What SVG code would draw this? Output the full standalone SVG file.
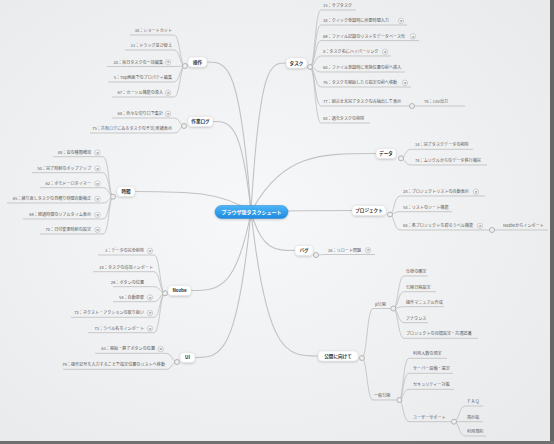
<svg xmlns="http://www.w3.org/2000/svg" xmlns:xlink="http://www.w3.org/1999/xlink" width="554" height="444" viewBox="0 0 554 444">
<defs>
<radialGradient id="bg" cx="0.45" cy="0.48" r="0.7">
<stop offset="0" stop-color="#f7f8f9"/>
<stop offset="1" stop-color="#e9eaec"/>
</radialGradient>
<linearGradient id="cg" x1="0" y1="0" x2="0" y2="1">
<stop offset="0" stop-color="#4fb6f7"/>
<stop offset="1" stop-color="#1d8ae0"/>
</linearGradient>
<filter id="sh" x="-20%" y="-30%" width="140%" height="170%">
<feDropShadow dx="0" dy="0.8" stdDeviation="0.8" flood-color="#000" flood-opacity="0.22"/>
</filter>
<g id="ic"><circle r="2.7" fill="#f8f8f8" stroke="#a9a9a9" stroke-width="0.5"/><text y="1.1" font-size="2.8" text-anchor="middle" fill="#8a8a8a" font-family="'Noto Sans CJK JP',sans-serif">済</text></g>
<style>
.mc{fill:none;stroke:#c2c2c2;stroke-width:1.1}
.br{fill:none;stroke:#c0c0c0;stroke-width:0.85}
.dot{fill:#efefef;stroke:#a3a3a3;stroke-width:0.8}
.t{font-family:"Noto Sans CJK JP","Noto Sans",sans-serif;font-size:4.1px;fill:#5a5a5a}
.e{text-anchor:end}
.box{fill:#ffffff;stroke:#d6d6d6;stroke-width:0.4;filter:url(#sh)}
.bt{font-family:"Noto Sans CJK JP","Noto Sans",sans-serif;font-size:4.6px;font-weight:bold;fill:#333;text-anchor:middle}
</style>
</defs>
<rect width="554" height="444" fill="url(#bg)"/>
<rect x="550" y="0" width="4" height="444" fill="#666"/>
<rect x="0" y="441" width="554" height="3" fill="#707070"/>

<g id="connectors">
<path class="mc" d="M251,212 C240,62 226.8,62 207,62"/>
<path class="mc" d="M251,212 C241.5,121.5 230.1,121.5 213,121.5"/>
<path class="mc" d="M251,212 C222,191.5 187.2,191.5 135,191.5"/>
<path class="mc" d="M251,212 C236,290.5 218,290.5 191,290.5"/>
<path class="mc" d="M251,212 C237,357.5 220.2,357.5 195,357.5"/>
<path class="mc" d="M251,212 C259.75,63 270.25,63 286,63"/>
<path class="mc" d="M251,212 C282.25,153.5 319.75,153.5 376,153.5"/>
<path class="mc" d="M251,212 C276.25,210.5 306.55,210.5 352,210.5"/>
<path class="mc" d="M251,212 C262,250.5 275.2,250.5 295,250.5"/>
<path class="mc" d="M251,212 C267,356 287,356 318,356"/>
</g>

<g id="center">
<rect x="215" y="205.5" width="73" height="13" rx="6.5" fill="url(#cg)" stroke="#2a86d4" stroke-width="0.5" filter="url(#sh)"/>
<text x="251.5" y="213.8" font-family="'Noto Sans CJK JP','Noto Sans',sans-serif" font-size="5px" font-weight="bold" fill="#fff" text-anchor="middle">ブラウザ版タスクシュート</text>
</g>

<g id="sousa">
<path class="br" d="M185,66 C180,66 180,35 174,35 H130"/>
<path class="br" d="M185,66 C180,66 180,50 174,50 H125"/>
<path class="br" d="M185,66 C180,66 180,66.5 174,66.5 H107"/>
<path class="br" d="M185,66 C180,66 180,82 174,82 H108"/>
<path class="br" d="M185,66 C180,66 180,97 174,97 H112"/>
<rect class="box" x="188" y="57" width="19" height="10" rx="4"/>
<text class="bt" x="197.5" y="63.7">操作</text>
<circle class="dot" cx="185" cy="66" r="2.5"/>
<text class="t e" x="172" y="32">30：ショートカット</text>
<text class="t e" x="172" y="47">31：ドラッグ並び替え</text>
<text class="t e" x="163" y="63.5">20：毎日タスクの一括編集</text>
<use href="#ic" x="168" y="62.3"/>
<text class="t e" x="172" y="79">5：Top画面でのプロパティ編集</text>
<text class="t e" x="163" y="94">67：カーソル機能の導入</text>
<use href="#ic" x="168" y="92.8"/>
</g>

<g id="sagyolog">
<path class="br" d="M184,126 C180,126 180,118 174,118 H112"/>
<path class="br" d="M184,126 C180,126 180,133 174,133 H90"/>
<rect class="box" x="188" y="116.5" width="25" height="10" rx="4"/>
<text class="bt" x="200.5" y="123.2">作業ログ</text>
<circle class="dot" cx="184" cy="126" r="2.5"/>
<text class="t e" x="163" y="115">64：色々な切り口で集計</text>
<use href="#ic" x="168" y="113.8"/>
<text class="t e" x="172" y="130">75：共有ログにあるタスクの予定/実績表示</text>
</g>

<g id="jikan">
<path class="br" d="M113,196.7 C109,196.7 109,156.7 103,156.7 H53"/>
<path class="br" d="M113,196.7 C109,196.7 109,172.7 103,172.7 H32"/>
<path class="br" d="M113,196.7 C109,196.7 109,187.7 103,187.7 H40"/>
<path class="br" d="M113,196.7 C109,196.7 109,203 103,203 H7"/>
<path class="br" d="M113,196.7 C109,196.7 109,219 103,219 H23"/>
<path class="br" d="M113,196.7 C109,196.7 109,234 103,234 H40"/>
<rect class="box" x="117" y="186.5" width="18" height="10" rx="4"/>
<text class="bt" x="126" y="193.2">時間</text>
<circle class="dot" cx="113" cy="196.7" r="2.5"/>
<text class="t e" x="91" y="153.7">48：音の種類増加</text>
<use href="#ic" x="97.5" y="152.5"/>
<text class="t e" x="91" y="169.7">50：完了時刻のポップアップ</text>
<use href="#ic" x="97.5" y="168.5"/>
<text class="t e" x="91" y="184.7">62：ポモドーロタイマー</text>
<use href="#ic" x="97.5" y="183.5"/>
<text class="t e" x="91" y="200">65：繰り返しタスクの見積り時間自動補正</text>
<use href="#ic" x="97.5" y="198.8"/>
<text class="t e" x="91" y="216">69：経過時間のリアルタイム表示</text>
<use href="#ic" x="97.5" y="214.8"/>
<text class="t e" x="91" y="231">70：日付変更時刻の設定</text>
<use href="#ic" x="97.5" y="229.8"/>
</g>

<g id="nozbe">
<path class="br" d="M165,293.3 C160,293.3 160,255 154,255 H98"/>
<path class="br" d="M165,293.3 C160,293.3 160,271.7 154,271.7 H93"/>
<path class="br" d="M165,293.3 C160,293.3 160,286.7 154,286.7 H113"/>
<path class="br" d="M165,293.3 C160,293.3 160,301.7 154,301.7 H113"/>
<path class="br" d="M165,293.3 C160,293.3 160,317.3 154,317.3 H71"/>
<path class="br" d="M165,293.3 C160,293.3 160,332.7 154,332.7 H88"/>
<rect class="box" x="168" y="285.5" width="23" height="10" rx="4"/>
<text class="bt" x="179.5" y="292.2">Nozbe</text>
<circle class="dot" cx="165" cy="293.3" r="2.5"/>
<text class="t e" x="144" y="252">3：データの完全削除</text>
<use href="#ic" x="150" y="250.8"/>
<text class="t e" x="153" y="268.7">24：タスクの追加インポート</text>
<text class="t e" x="144" y="283.7">29：ボタンの位置</text>
<text class="t e" x="144" y="298.7">54：自動更新</text>
<use href="#ic" x="150" y="297.5"/>
<text class="t e" x="144" y="314.3">72：ネクスト・アクションの取り扱い</text>
<use href="#ic" x="150" y="313.1"/>
<text class="t e" x="144" y="329.7">73：ラベル名をインポート</text>
<use href="#ic" x="150" y="328.5"/>
</g>

<g id="ui">
<path class="br" d="M177,362 C172,362 172,353.3 166,353.3 H95"/>
<path class="br" d="M177,362 C172,362 172,369.3 166,369.3 H63"/>
<rect class="box" x="180" y="352.5" width="15" height="10" rx="4"/>
<text class="bt" x="187.5" y="359.2">UI</text>
<circle class="dot" cx="177" cy="362" r="2.5"/>
<text class="t e" x="155" y="350.3">63：開始・終了ボタンの位置</text>
<use href="#ic" x="160.7" y="349.1"/>
<text class="t e" x="165" y="366.3">79：操作記号を入力することで指定位置のリストへ移動</text>
</g>

<g id="task">
<path class="br" d="M310,67 C315,67 315,10 321,10 H356"/>
<path class="br" d="M310,67 C315,67 315,25 321,25 H407"/>
<path class="br" d="M310,67 C315,67 315,40.6 321,40.6 H419"/>
<path class="br" d="M310,67 C315,67 315,56 321,56 H391"/>
<path class="br" d="M310,67 C315,67 315,72 321,72 H405"/>
<path class="br" d="M310,67 C315,67 315,87 321,87 H411"/>
<path class="br" d="M310,67 C315,67 315,106 321,106 H409.5"/>
<path class="br" d="M310,67 C315,67 315,123 321,123 H370"/>
<path class="br" d="M414.5,106 H465"/>
<rect class="box" x="286" y="58" width="21" height="10" rx="4"/>
<text class="bt" x="296.5" y="64.7">タスク</text>
<circle class="dot" cx="310" cy="67" r="2.5"/>
<text class="t" x="323" y="7">15：サブタスク</text>
<text class="t" x="323" y="22">38：クイック登録時に所要時間入力</text>
<use href="#ic" x="401" y="20.8"/>
<text class="t" x="323" y="37.6">69：ファイル記録のリストをデータベース化</text>
<use href="#ic" x="413" y="36.4"/>
<text class="t" x="323" y="53">8：タスク名にハイパーリンク</text>
<use href="#ic" x="385" y="51.8"/>
<text class="t" x="323" y="69">60：ファイル登録時に実施位置の前へ挿入</text>
<text class="t" x="323" y="84">76：タスクを開始したら指定の前へ移動</text>
<use href="#ic" x="405" y="82.8"/>
<text class="t" x="323" y="103">77：組合せ未完了タスクのみ抽出して表示</text>
<circle class="dot" cx="412" cy="106" r="2.5"/>
<text class="t" x="424" y="103">78：CSV出力</text>
<text class="t" x="323" y="120">88：過去タスクの削除</text>
</g>

<g id="data">
<path class="br" d="M401,158.3 C405,158.3 405,149.3 411,149.3 H473"/>
<path class="br" d="M401,158.3 C405,158.3 405,165 411,165 H487"/>
<rect class="box" x="376" y="148.5" width="20" height="10" rx="4"/>
<text class="bt" x="386" y="155.2">データ</text>
<circle class="dot" cx="401" cy="158.3" r="2.5"/>
<text class="t" x="415" y="146.3">14：完了タスクデータの削除</text>
<text class="t" x="415" y="162">74：ムリクルからのデータ移行補完</text>
</g>

<g id="project">
<path class="br" d="M390,214.5 C394,214.5 394,196 400,196 H485"/>
<path class="br" d="M390,214.5 C394,214.5 394,211.7 400,211.7 H452"/>
<path class="br" d="M390,214.5 C394,214.5 394,230 400,230 H489.5"/>
<path class="br" d="M494.5,230 H548"/>
<rect class="box" x="352" y="205.5" width="34" height="10" rx="4"/>
<text class="bt" x="369" y="212.2">プロジェクト</text>
<circle class="dot" cx="390" cy="214.5" r="2.5"/>
<text class="t" x="403" y="193">28：プロジェクトリストの自動表示</text>
<use href="#ic" x="476" y="191.8"/>
<text class="t" x="403" y="208.7">58：リストのソート機能</text>
<text class="t" x="403" y="227">68：各プロジェクトを跨るラベル機能</text>
<use href="#ic" x="480" y="225.8"/>
<circle class="dot" cx="492" cy="230" r="2.5"/>
<text class="t" x="503" y="227">Nozbeからインポート</text>
</g>

<g id="bug">
<path class="br" d="M316,255 C320,255 320,254.5 326,254.5 H375"/>
<rect class="box" x="295" y="245.5" width="18" height="10" rx="4"/>
<text class="bt" x="304" y="252.2">バグ</text>
<circle class="dot" cx="316" cy="255" r="2.5"/>
<text class="t" x="328" y="251.5">26：リロード問題</text>
<use href="#ic" x="368" y="250.3"/>
</g>

<g id="koukai">
<path class="br" d="M362,358 C367,358 367,308.5 373,308.5 H390.8"/>
<path class="br" d="M362,358 C367,358 367,400 373,400 H396.8"/>
<path class="br" d="M393.3,308.5 C398,308.5 398,276 404,276 H428"/>
<path class="br" d="M393.3,308.5 C398,308.5 398,291.7 404,291.7 H436"/>
<path class="br" d="M393.3,308.5 C398,308.5 398,306.7 404,306.7 H444"/>
<path class="br" d="M393.3,308.5 C398,308.5 398,322.7 404,322.7 H428"/>
<path class="br" d="M393.3,308.5 C398,308.5 398,338.3 404,338.3 H478"/>
<path class="br" d="M399.3,400 C403,400 403,358.3 409,358.3 H447"/>
<path class="br" d="M399.3,400 C403,400 403,373.3 409,373.3 H453"/>
<path class="br" d="M399.3,400 C403,400 403,389.3 409,389.3 H454"/>
<path class="br" d="M399.3,400 C403,400 403,421.7 409,421.7 H451.5"/>
<path class="br" d="M454,421.7 C459,421.7 459,406 465,406 H483"/>
<path class="br" d="M454,421.7 C459,421.7 459,421.7 465,421.7 H483"/>
<path class="br" d="M454,421.7 C459,421.7 459,436 465,436 H486"/>
<rect class="box" x="318" y="351" width="40" height="10" rx="4"/>
<text class="bt" x="338" y="357.7">公開に向けて</text>
<circle class="dot" cx="362" cy="358" r="2.5"/>
<text class="t" x="375" y="305.5">β公開</text>
<circle class="dot" cx="393.3" cy="308.5" r="2.5"/>
<text class="t" x="406" y="273">仕様の確定</text>
<text class="t" x="406" y="288.7">公開日程設定</text>
<text class="t" x="406" y="303.7">操作マニュアル作成</text>
<text class="t" x="406" y="319.7">アナウンス</text>
<text class="t" x="406" y="335.3">プロジェクトの目標設定・共通認識</text>
<text class="t" x="374" y="397">一般公開</text>
<circle class="dot" cx="399.3" cy="400" r="2.5"/>
<text class="t" x="413" y="355.3">利用人数の想定</text>
<text class="t" x="413" y="370.3">サーバー設備・選定</text>
<text class="t" x="413" y="386.3">セキュリティー対策</text>
<text class="t" x="413" y="418.7">ユーザーサポート</text>
<circle class="dot" cx="454" cy="421.7" r="2.5"/>
<text class="t" x="467" y="403">ＦＡＱ</text>
<text class="t" x="467" y="418.7">掲示板</text>
<text class="t" x="467" y="433">利用規約</text>
</g>
</svg>
